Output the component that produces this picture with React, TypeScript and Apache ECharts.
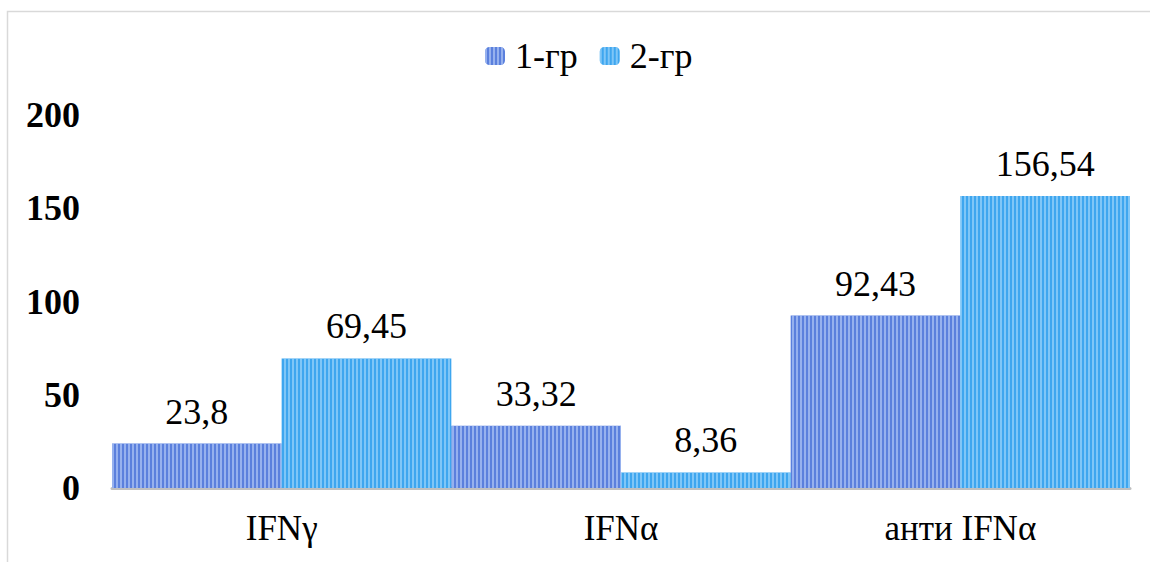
import React, { useEffect, useRef } from "react";
import * as echarts from "echarts";

const categories = ["IFNγ", "IFNα", "анти IFNα"];
const group1 = [23.8, 33.32, 92.43];
const group2 = [69.45, 8.36, 156.54];
const seriesNames = ["1-гр", "2-гр"];

const FONT = "Times New Roman, Liberation Serif, serif";

const fmt = (v: number) => String(v).replace(".", ",");

export default function App() {
  const ref = useRef<HTMLDivElement>(null);
  useEffect(() => {
    if (!ref.current) return;
    const chart = echarts.init(ref.current, null, { renderer: "svg" });
    const decal = (c: string) => ({
      symbol: "rect",
      symbolSize: 1,
      dashArrayX: [2, 2],
      dashArrayY: [1, 0],
      rotation: 0,
      color: c,
    });
    const labelCfg = {
      show: true,
      position: "top",
      distance: 14,
      fontFamily: FONT,
      fontSize: 36,
      color: "#000",
      formatter: (p: any) => fmt(p.value),
    };
    chart.setOption({
      animation: false,
      backgroundColor: "#ffffff",
      textStyle: { fontFamily: FONT },
      graphic: [
        {
          type: "rect",
          shape: { x: 7.5, y: 11.5, width: 1160, height: 580 },
          style: { fill: "none", stroke: "#d9d9d9", lineWidth: 1.5 },
          silent: true,
          z: -1,
        },
      ],
      legend: {
        top: 38,
        left: 485,
        padding: 0,
        itemWidth: 20,
        itemHeight: 18,
        itemGap: 22,
        textStyle: {
          fontFamily: FONT,
          fontSize: 36,
          color: "#000",
          padding: [0, 0, 0, 5],
        },
        data: seriesNames,
      },
      grid: { left: 112, right: 20, top: 115, bottom: 74 },
      xAxis: {
        type: "category",
        data: categories,
        axisLine: { show: true, lineStyle: { color: "#bfbfbf", width: 3 } },
        axisTick: { show: false },
        axisLabel: { fontFamily: FONT, fontSize: 35, color: "#000", margin: 23 },
      },
      yAxis: {
        type: "value",
        min: 0,
        max: 200,
        interval: 50,
        axisLine: { show: false },
        axisTick: { show: false },
        splitLine: { show: false },
        axisLabel: {
          fontFamily: FONT,
          fontSize: 36,
          fontWeight: "bold",
          color: "#000",
          margin: 32,
        },
      },
      series: [
        {
          name: seriesNames[0],
          type: "bar",
          data: group1,
          barGap: "0%",
          barCategoryGap: "0%",
          itemStyle: { color: "#5b80dd", decal: decal("rgba(190,210,250,0.6)") },
          label: labelCfg,
        },
        {
          name: seriesNames[1],
          type: "bar",
          data: group2,
          barGap: "0%",
          barCategoryGap: "0%",
          itemStyle: { color: "#3ea6ef", decal: decal("rgba(170,220,252,0.6)") },
          label: labelCfg,
        },
      ],
    });
    return () => chart.dispose();
  }, []);
  return (
    <div
      ref={ref}
      style={{ position: "absolute", left: 0, top: 0, width: 1150, height: 562 }}
    />
  );
}
